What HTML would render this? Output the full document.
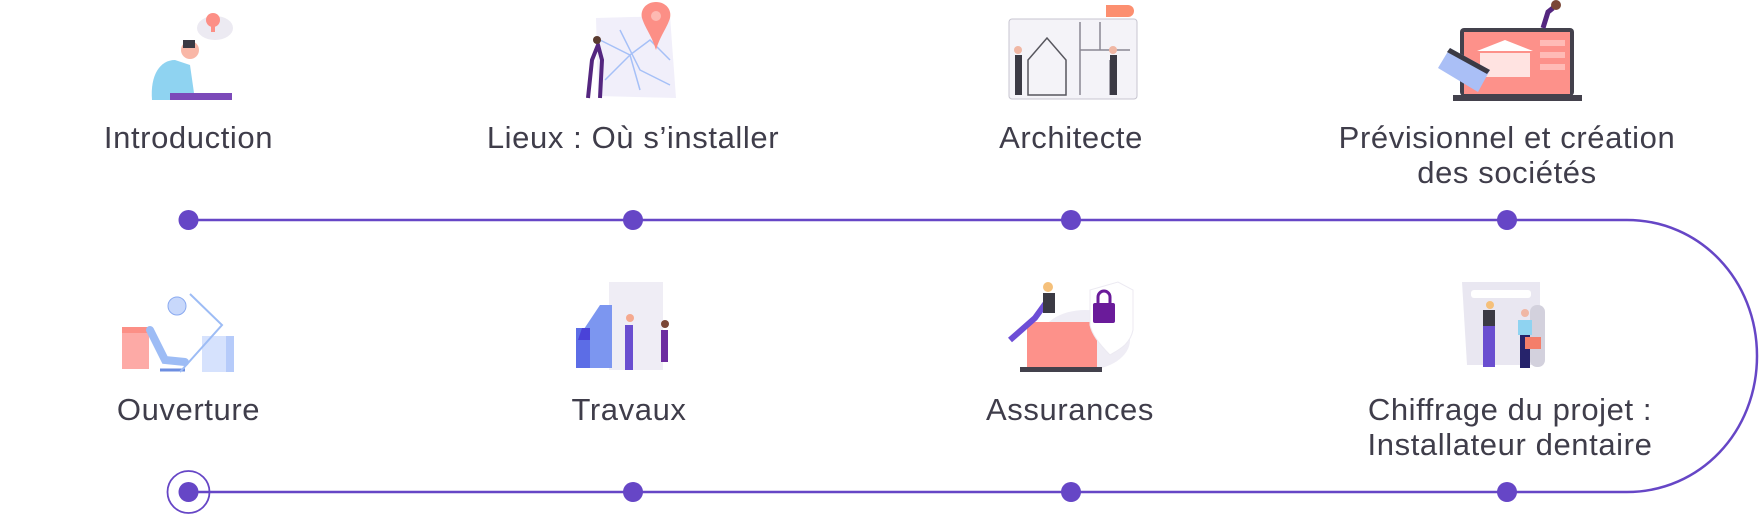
<!DOCTYPE html>
<html><head><meta charset="utf-8"><style>
html,body{margin:0;padding:0;background:#fff;}
body{width:1759px;height:514px;overflow:hidden;position:relative;}
svg{position:absolute;left:0;top:0;}
text{font-family:"Liberation Sans",sans-serif;font-size:31px;letter-spacing:0.6px;fill:#3f3d4a;text-anchor:middle;}
</style></head><body>
<svg width="1759" height="514" viewBox="0 0 1759 514">
<path d="M188 220 H1627 C1700 220 1757 280 1757 356 C1757 432 1700 492 1627 492 H188" fill="none" stroke="#6646c6" stroke-width="2.5"/>
<g fill="#6646c6">
<circle cx="188.5" cy="220" r="10"/><circle cx="633" cy="220" r="10"/><circle cx="1071" cy="220" r="10"/><circle cx="1507" cy="220" r="10"/>
<circle cx="188.5" cy="492" r="10"/><circle cx="633" cy="492" r="10"/><circle cx="1071" cy="492" r="10"/><circle cx="1507" cy="492" r="10"/>
</g>
<circle cx="188.5" cy="492" r="21" fill="none" stroke="#6646c6" stroke-width="1.8"/>

<text x="188.5" y="148">Introduction</text>
<text x="633" y="148">Lieux : Où s’installer</text>
<text x="1071" y="148">Architecte</text>
<text x="1507" y="148">Prévisionnel et création</text>
<text x="1507" y="183">des sociétés</text>
<text x="188.5" y="420">Ouverture</text>
<text x="629" y="420">Travaux</text>
<text x="1070" y="420">Assurances</text>
<text x="1510" y="420">Chiffrage du projet :</text>
<text x="1510" y="455">Installateur dentaire</text>

<ellipse cx="215" cy="28" rx="18" ry="12" fill="#eceaf2"/>
<circle cx="213" cy="20" r="7" fill="#fc8f86"/>
<rect x="211" y="26" width="4" height="6" fill="#fc8f86"/>
<path d="M152 100 C150 75 160 60 175 60 L190 65 L195 100 Z" fill="#8fd3f1"/>
<circle cx="190" cy="50" r="9" fill="#f9b7a7"/>
<path d="M183 40 h12 v8 h-12z" fill="#3b3a44"/>
<rect x="170" y="93" width="62" height="7" fill="#7c4ab9"/>
<path d="M596 18 L670 16 L676 98 L598 96 Z" fill="#f1effa"/>
<path d="M600 40 L630 55 L650 40 L670 60 M605 80 L630 55 L640 90 M620 30 L640 70 L670 85" stroke="#a6c0f7" stroke-width="1.5" fill="none"/>
<path d="M656 2 C646 2 640 10 642 18 C645 28 652 36 656 50 C660 36 667 28 670 18 C672 10 666 2 656 2Z" fill="#fc8f86"/>
<circle cx="656" cy="16" r="5" fill="#fdb9b2"/>
<path d="M588 98 L592 60 L598 45 L602 60 L600 98" stroke="#54267f" stroke-width="4" fill="none"/>
<circle cx="597" cy="40" r="4" fill="#5a3b2f"/>
<rect x="1009" y="19" width="128" height="80" rx="3" fill="#f4f3f8" stroke="#c7c5d0"/>
<path d="M1028 60 L1047 38 L1066 60 V95 H1028 Z" fill="none" stroke="#57565e" stroke-width="1.5"/>
<path d="M1080 22 V95 M1080 50 H1130 M1100 22 V50 M1110 60 V95" stroke="#8a8893" stroke-width="1.5" fill="none"/>
<path d="M1106 5 h22 a6 6 0 0 1 0 12 h-22 z" fill="#fc8f70"/>
<rect x="1015" y="55" width="7" height="40" fill="#3b3a44"/><rect x="1110" y="55" width="7" height="40" fill="#3b3a44"/>
<circle cx="1018" cy="50" r="4" fill="#f0b7a4"/><circle cx="1113" cy="50" r="4" fill="#f0b7a4"/>
<rect x="1460" y="28" width="114" height="68" rx="4" fill="#43414c"/>
<rect x="1464" y="32" width="106" height="62" fill="#fd918a"/>
<path d="M1477 51 L1505 40 L1533 51 Z" fill="#fff"/>
<rect x="1480" y="53" width="50" height="24" fill="#ffe3e1"/>
<rect x="1540" y="40" width="25" height="6" fill="#ffbbb6"/><rect x="1540" y="52" width="25" height="6" fill="#ffbbb6"/><rect x="1540" y="64" width="25" height="6" fill="#ffbbb6"/>
<rect x="1453" y="95" width="129" height="6" fill="#43414c"/>
<path d="M1438 68 L1450 48 L1490 70 L1478 92 Z" fill="#aabff6"/>
<path d="M1447 52 L1450 48 L1490 70 L1487 74 Z" fill="#3b3a44"/>
<path d="M1543 28 L1548 12 L1553 8" stroke="#54267f" stroke-width="5" fill="none"/>
<circle cx="1556" cy="5" r="5" fill="#7a4636"/>
<rect x="122" y="327" width="27" height="42" fill="#fdaaa6"/><rect x="122" y="327" width="27" height="6" fill="#fc8f86"/>
<path d="M150 330 L165 360 L185 362" stroke="#9dbcf5" stroke-width="8" fill="none" stroke-linecap="round"/>
<path d="M160 370 L185 370" stroke="#6d8ee0" stroke-width="3"/>
<rect x="202" y="336" width="32" height="36" fill="#d6e2fd"/><rect x="226" y="336" width="8" height="36" fill="#b6cbfa"/>
<path d="M190 294 L222 325 L180 372" stroke="#9dbcf5" stroke-width="2" fill="none"/>
<circle cx="177" cy="306" r="9" fill="#c8d8fb" stroke="#8aaaf0"/>
<rect x="609" y="282" width="54" height="88" fill="#efedf5"/>
<path d="M580 335 L600 305 L612 305 V368 H580 Z" fill="#7c96f0"/>
<rect x="576" y="328" width="14" height="40" fill="#5c6de6"/>
<path d="M578 340 L582 328 H590 V340 Z" fill="#4a42d8"/>
<rect x="625" y="325" width="8" height="45" fill="#6a4ed0"/><circle cx="630" cy="318" r="4" fill="#f5a98f"/>
<rect x="661" y="330" width="7" height="32" fill="#6d2ca0"/><circle cx="665" cy="324" r="4" fill="#7a4636"/>
<ellipse cx="1085" cy="340" rx="45" ry="30" fill="#efedf5"/>
<rect x="1027" y="322" width="70" height="45" fill="#fd918a"/>
<rect x="1020" y="367" width="82" height="5" fill="#43414c"/>
<path d="M1090 290 L1118 282 L1133 290 V330 C1130 345 1118 350 1110 355 C1100 345 1092 335 1090 325 Z" fill="#fff" stroke="#eceaf2"/>
<rect x="1093" y="303" width="22" height="20" rx="2" fill="#6a1b9a"/>
<path d="M1098 303 V297 a6 6 0 0 1 12 0 V303" stroke="#6a1b9a" stroke-width="3" fill="none"/>
<path d="M1010 340 L1035 318 L1048 300" stroke="#6d4ed6" stroke-width="6" fill="none"/>
<circle cx="1048" cy="287" r="5" fill="#f5c07a"/><rect x="1043" y="293" width="12" height="20" fill="#3b3a44"/>
<path d="M1462 282 H1540 V365 H1467 Z" fill="#e9e7f1"/>
<rect x="1530" y="305" width="15" height="62" rx="7" fill="#d3d1dd"/>
<rect x="1471" y="290" width="60" height="8" rx="3" fill="#fff"/>
<rect x="1483" y="322" width="12" height="45" fill="#6a4ed0"/><rect x="1483" y="310" width="12" height="16" fill="#3b3a44"/>
<rect x="1518" y="320" width="14" height="15" fill="#8fd3f1"/><rect x="1520" y="335" width="10" height="33" fill="#26236b"/>
<rect x="1525" y="337" width="16" height="12" fill="#f47e6a"/>
<circle cx="1490" cy="305" r="4" fill="#f5c07a"/><circle cx="1525" cy="313" r="4" fill="#f0b7a4"/>
</svg>
</body></html>
